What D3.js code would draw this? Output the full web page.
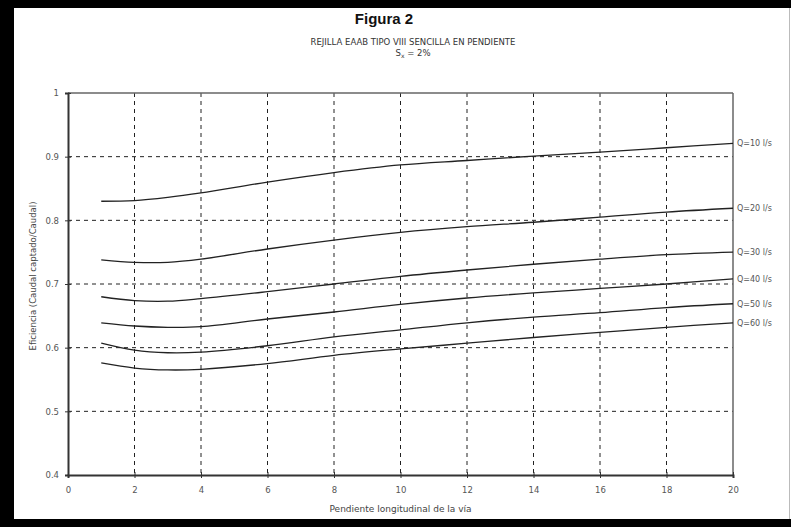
<!DOCTYPE html>
<html>
<head>
<meta charset="utf-8">
<script src="https://cdn.jsdelivr.net/npm/d3@7"></script>
<style>
  body { margin: 0; background: #fff; }
  text { font-family: "DejaVu Sans", sans-serif; }
</style>
</head>
<body>
<div id="chart"></div>
<script>
// data
var pendientes = [1, 2, 3, 4, 6, 8, 10, 12, 14, 16, 18, 20];
var q10 = [0.830, 0.831, 0.836, 0.843, 0.860, 0.875, 0.887, 0.894, 0.901, 0.907, 0.914, 0.921];
var q20 = [0.738, 0.734, 0.734, 0.739, 0.755, 0.769, 0.781, 0.790, 0.797, 0.805, 0.813, 0.819];
var q30 = [0.680, 0.674, 0.673, 0.677, 0.688, 0.700, 0.712, 0.722, 0.731, 0.739, 0.746, 0.750];
var q40 = [0.639, 0.634, 0.632, 0.633, 0.645, 0.656, 0.668, 0.678, 0.686, 0.693, 0.700, 0.708];
var q50 = [0.607, 0.596, 0.592, 0.593, 0.603, 0.617, 0.628, 0.639, 0.648, 0.655, 0.663, 0.669];
var q60 = [0.576, 0.568, 0.565, 0.566, 0.575, 0.588, 0.598, 0.607, 0.616, 0.624, 0.632, 0.639];
var series = [q10, q20, q30, q40, q50, q60];
var serieLabels = ["Q=10 l/s", "Q=20 l/s", "Q=30 l/s", "Q=40 l/s", "Q=50 l/s", "Q=60 l/s"];
var xTicks = [0, 2, 4, 6, 8, 10, 12, 14, 16, 18, 20];
var yTicks = [0.4, 0.5, 0.6, 0.7, 0.8, 0.9, 1];

var W = 791, H = 527;
var margin = {top: 93, right: 58, bottom: 52, left: 68};
var width = W - margin.left - margin.right,
    height = H - margin.top - margin.bottom;

var svg = d3.select("#chart").append("svg")
    .attr("width", W)
    .attr("height", H);

// black frame of the scanned figure
svg.append("rect").attr("x", 0).attr("y", 0).attr("width", W).attr("height", 8).attr("fill", "#000");
svg.append("rect").attr("x", 0).attr("y", 0).attr("width", 14).attr("height", H).attr("fill", "#000");
svg.append("rect").attr("x", 0).attr("y", 519).attr("width", W).attr("height", 8).attr("fill", "#000");
svg.append("line").attr("x1", 789.5).attr("x2", 789.5).attr("y1", 8).attr("y2", 519)
    .attr("stroke", "#bbb").attr("stroke-width", 1);

// titles
svg.append("text")
    .attr("x", 384).attr("y", 24)
    .attr("text-anchor", "middle")
    .style("font-family", "'Liberation Sans', Arial, sans-serif")
    .style("font-weight", "bold")
    .style("font-size", "15px")
    .attr("fill", "#111")
    .text("Figura 2");

svg.append("text")
    .attr("x", 413).attr("y", 45)
    .attr("text-anchor", "middle")
    .style("font-size", "8.5px")
    .attr("fill", "#333")
    .text("REJILLA EAAB TIPO VIII SENCILLA EN PENDIENTE");

var sx = svg.append("text")
    .attr("x", 413).attr("y", 56)
    .attr("text-anchor", "middle")
    .style("font-size", "8.5px")
    .attr("fill", "#333");
sx.append("tspan").text("S");
sx.append("tspan").attr("dy", 2).style("font-size", "6px").text("x");
sx.append("tspan").attr("dy", -2).text(" = 2%");

var g = svg.append("g").attr("transform", "translate(" + margin.left + "," + margin.top + ")");

var x = d3.scaleLinear().domain([0, 20]).range([0, width]);
var y = d3.scaleLinear().domain([0.4, 1]).range([height, 0]);

// dashed grid
g.append("g")
  .selectAll("line")
  .data(xTicks.slice(1, -1))
  .enter().append("line")
    .attr("x1", function(d) { return x(d); })
    .attr("x2", function(d) { return x(d); })
    .attr("y1", 0).attr("y2", height)
    .attr("stroke", "#222").attr("stroke-width", 1)
    .attr("stroke-dasharray", "4,4");

g.append("g")
  .selectAll("line")
  .data(yTicks.slice(1, -1))
  .enter().append("line")
    .attr("x1", 0).attr("x2", width)
    .attr("y1", function(d) { return y(d); })
    .attr("y2", function(d) { return y(d); })
    .attr("stroke", "#222").attr("stroke-width", 1)
    .attr("stroke-dasharray", "4,4");

// top + right frame (lighter)
g.append("line").attr("x1", 0).attr("x2", width).attr("y1", 0).attr("y2", 0)
    .attr("stroke", "#666").attr("stroke-width", 1.5);
g.append("line").attr("x1", width).attr("x2", width).attr("y1", 0).attr("y2", height)
    .attr("stroke", "#666").attr("stroke-width", 1.5);

// axes
var xAxis = g.append("g")
    .attr("transform", "translate(0," + height + ")")
    .call(d3.axisBottom(x).tickValues(xTicks).tickSize(3).tickPadding(9).tickFormat(d3.format("d")));
xAxis.select(".domain").attr("stroke", "#333").attr("stroke-width", 2);
xAxis.selectAll(".tick line").attr("stroke", "#333").attr("y1", -3).attr("y2", 3);
xAxis.selectAll("text").attr("fill", "#555").style("font-size", "8.5px");

var yAxis = g.append("g")
    .call(d3.axisLeft(y).tickValues(yTicks).tickSize(3).tickPadding(6).tickFormat(function(d) { return d3.format("")(+d.toFixed(1)); }));
yAxis.select(".domain").attr("stroke", "#333").attr("stroke-width", 2);
yAxis.selectAll(".tick line").attr("stroke", "#333").attr("x1", -3).attr("x2", 3);
yAxis.selectAll("text").attr("fill", "#555").style("font-size", "8.5px");

// axis titles
g.append("text")
    .attr("x", width / 2).attr("y", height + 37)
    .attr("text-anchor", "middle")
    .style("font-size", "9px")
    .attr("fill", "#444")
    .text("Pendiente longitudinal de la vía");

g.append("text")
    .attr("transform", "translate(-32," + (height / 2 - 8) + ") rotate(-90)")
    .attr("text-anchor", "middle")
    .style("font-size", "8.5px")
    .attr("fill", "#444")
    .text("Eficiencia (Caudal captado/Caudal)");

// curves
var line = d3.line()
    .x(function(d, i) { return x(pendientes[i]); })
    .y(function(d) { return y(d); })
    .curve(d3.curveCatmullRom.alpha(0.5));

g.selectAll(".curva")
    .data(series)
  .enter().append("path")
    .attr("class", "curva")
    .attr("fill", "none")
    .attr("stroke", "#222")
    .attr("stroke-width", 1.3)
    .attr("d", line);

g.selectAll(".etiqueta")
    .data(series)
  .enter().append("text")
    .attr("class", "etiqueta")
    .attr("x", width + 4)
    .attr("y", function(d) { return y(d[d.length - 1]); })
    .attr("dy", "0.35em")
    .style("font-size", "8px")
    .attr("fill", "#555")
    .text(function(d, i) { return serieLabels[i]; });
</script>
</body>
</html>
